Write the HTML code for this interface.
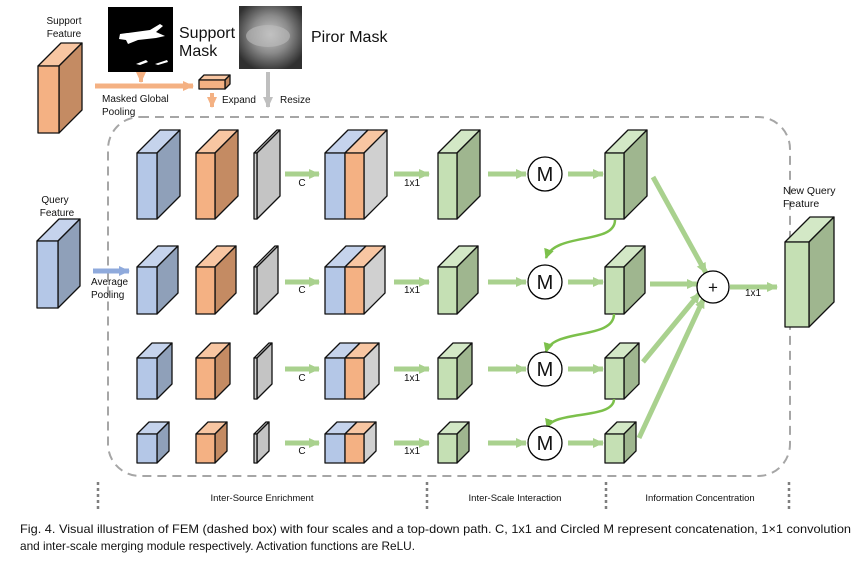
<!DOCTYPE html>
<html><head><meta charset="utf-8"><style>
html,body{margin:0;padding:0;background:#fff;width:867px;height:562px;overflow:hidden}
svg{display:block}
text{font-family:"Liberation Sans",sans-serif;fill:#111}
</style></head><body>
<svg id="s" width="867" height="562" viewBox="0 0 867 562" xmlns="http://www.w3.org/2000/svg">
<defs>
<marker id="ga" markerUnits="userSpaceOnUse" markerWidth="12" markerHeight="12" refX="10" refY="6" orient="auto"><path d="M0,1 L11,6 L0,11 Z" fill="#a9d18e"/></marker>
<marker id="gd" markerUnits="userSpaceOnUse" markerWidth="12" markerHeight="12" refX="9" refY="6" orient="auto"><path d="M0,1 L10,6 L0,11 Z" fill="#7cc04b"/></marker>
<marker id="oa" markerUnits="userSpaceOnUse" markerWidth="12" markerHeight="12" refX="10" refY="6" orient="auto"><path d="M0,1 L11,6 L0,11 Z" fill="#f4b183"/></marker>
<marker id="ba" markerUnits="userSpaceOnUse" markerWidth="12" markerHeight="12" refX="10" refY="6" orient="auto"><path d="M0,1 L11,6 L0,11 Z" fill="#8faadc"/></marker>
<marker id="ya" markerUnits="userSpaceOnUse" markerWidth="12" markerHeight="12" refX="10" refY="6" orient="auto"><path d="M0,1 L11,6 L0,11 Z" fill="#bfbfbf"/></marker>
<radialGradient id="pm" cx="50%" cy="45%" r="60%"><stop offset="0" stop-color="#c8c8c8"/><stop offset="0.5" stop-color="#8a8a8a"/><stop offset="1" stop-color="#303030"/></radialGradient>
</defs>
<rect x="108" y="117" width="682" height="359" rx="32" fill="none" stroke="#a6a6a6" stroke-width="2" stroke-dasharray="9,6"/>
<rect x="108" y="7" width="65" height="65" fill="#000"/>
<path d="M120,34 L150,30 L160,24 L163,26 L156,32 L165,36 L156,38 L138,40 L128,44 L126,40 L119,39 Z" fill="#fff"/>
<path d="M136,64 L146,60 L148,62 L140,65 Z M155,64 L167,60 L168,62 L158,65 Z" fill="#fff"/>
<rect x="239" y="6" width="63" height="63" fill="url(#pm)"/>
<ellipse cx="268" cy="36" rx="22" ry="11" fill="#bdbdbd" opacity="0.6"/>
<text x="179" y="38" font-size="16">Support</text>
<text x="179" y="56" font-size="16">Mask</text>
<text x="311" y="42" font-size="16">Piror Mask</text>
<text x="64" y="24" font-size="10" text-anchor="middle">Support</text>
<text x="64" y="37" font-size="10" text-anchor="middle">Feature</text>
<text x="55" y="203" font-size="10" text-anchor="middle">Query</text>
<text x="57" y="216" font-size="10" text-anchor="middle">Feature</text>
<line x1="141" y1="72" x2="141" y2="82" stroke="#f4b183" stroke-width="4" marker-end="url(#oa)"/>
<line x1="95" y1="86" x2="193" y2="86" stroke="#f4b183" stroke-width="5" marker-end="url(#oa)"/>
<line x1="212" y1="93" x2="212" y2="107" stroke="#f4b183" stroke-width="4" marker-end="url(#oa)"/>
<line x1="268" y1="72" x2="268" y2="107" stroke="#bfbfbf" stroke-width="4" marker-end="url(#ya)"/>
<text x="102" y="102" font-size="10">Masked Global</text>
<text x="102" y="115" font-size="10">Pooling</text>
<text x="222" y="103" font-size="10">Expand</text>
<text x="280" y="103" font-size="10">Resize</text>
<line x1="93" y1="271" x2="129" y2="271" stroke="#8faadc" stroke-width="5" marker-end="url(#ba)"/>
<text x="91" y="285" font-size="10">Average</text>
<text x="91" y="298" font-size="10">Pooling</text>
<g id="cubes"></g>
<g id="arrows" fill="none"></g>
<g stroke="#000" stroke-width="1.3" fill="#fff">
<circle cx="545" cy="174" r="17"/><circle cx="545" cy="282" r="17"/><circle cx="545" cy="369" r="17"/><circle cx="545" cy="443" r="17"/>
<circle cx="713" cy="287" r="16"/>
</g>
<g font-size="20" text-anchor="middle">
<text x="545" y="181">M</text><text x="545" y="289">M</text><text x="545" y="376">M</text><text x="545" y="450">M</text>
</g>
<text x="713" y="293" font-size="17" text-anchor="middle">+</text>
<g font-size="10" text-anchor="middle">
<text x="302" y="186">C</text><text x="302" y="293">C</text><text x="302" y="381">C</text><text x="302" y="454">C</text>
<text x="412" y="186">1x1</text><text x="412" y="293">1x1</text><text x="412" y="381">1x1</text><text x="412" y="454">1x1</text>
<text x="753" y="296">1x1</text>
</g>
<text x="783" y="194" font-size="10.5">New Query</text>
<text x="783" y="207" font-size="10.5">Feature</text>
<g stroke="#7f7f7f" stroke-width="2.5" stroke-dasharray="3,3">
<line x1="98" y1="482" x2="98" y2="512"/><line x1="427" y1="482" x2="427" y2="512"/><line x1="606" y1="482" x2="606" y2="512"/><line x1="789" y1="482" x2="789" y2="512"/>
</g>
<g font-size="9.5" text-anchor="middle">
<text x="262" y="501">Inter-Source Enrichment</text>
<text x="515" y="501">Inter-Scale Interaction</text>
<text x="700" y="501">Information Concentration</text>
</g>
<text x="20" y="533" font-size="12" textLength="831" lengthAdjust="spacingAndGlyphs">Fig. 4. Visual illustration of FEM (dashed box) with four scales and a top-down path. C, 1x1 and Circled M represent concatenation, 1×1 convolution</text>
<text x="20" y="550" font-size="12" textLength="395" lengthAdjust="spacingAndGlyphs">and inter-scale merging module respectively. Activation functions are ReLU.</text>
</svg>
<script>
var NS="http://www.w3.org/2000/svg";
var C=document.getElementById('cubes'),A=document.getElementById('arrows');
function el(p,t,a){var e=document.createElementNS(NS,t);for(var k in a)e.setAttribute(k,a[k]);p.appendChild(e);return e;}
var P={b:['#b4c7e7','#c5d3ec','#8fa0b9'],o:['#f4b183','#f8c6a2','#c48b63'],g:['#d0d0d0','#d8d8d8','#c4c4c4'],n:['#c5e0b4','#d3e8c6','#9fb68f']};
var st={stroke:'#111','stroke-width':1.3,'stroke-linejoin':'round'};
function pts(a){return a.map(function(p){return p[0]+','+p[1]}).join(' ');}
function poly(a,f){var o={points:pts(a),fill:f};for(var k in st)o[k]=st[k];el(C,'polygon',o);}
function cube(x,y,w,h,d,c){var p=P[c];
poly([[x,y],[x+d,y-d],[x+w+d,y-d],[x+w,y]],p[1]);
poly([[x+w,y],[x+w+d,y-d],[x+w+d,y+h-d],[x+w,y+h]],p[2]);
poly([[x,y],[x+w,y],[x+w,y+h],[x,y+h]],p[0]);}
function cat(x,y,w1,w2,h,d){
poly([[x,y],[x+d,y-d],[x+w1+d,y-d],[x+w1,y]],P.b[1]);
poly([[x+w1,y],[x+w1+d,y-d],[x+w1+w2+d,y-d],[x+w1+w2,y]],P.o[1]);
var x2=x+w1+w2;poly([[x2,y],[x2+d,y-d],[x2+d,y+h-d],[x2,y+h]],P.g[0]);
poly([[x,y],[x+w1,y],[x+w1,y+h],[x,y+h]],P.b[0]);
poly([[x+w1,y],[x2,y],[x2,y+h],[x+w1,y+h]],P.o[0]);}
cube(38,66,21,67,23,'o');
cube(37,241,21,67,22,'b');
cube(199,80,26,9,5,'o');
var R=[[153,66,23],[267,47,21],[358,41,15],[434,29,12]];
R.forEach(function(r,i){var y=r[0],h=r[1],d=r[2];
cube(137,y,20,h,d,'b');cube(196,y,19,h,d,'o');cube(254,y,3,h,d,'g');
cat(325,y,20,19,h,d);
cube(438,y,19,h,d,'n');cube(605,y,19,h,d,'n');});
cube(785,242,24,85,25,'n');
function ar(x1,y1,x2,y2){el(A,'line',{x1:x1,y1:y1,x2:x2,y2:y2,stroke:'#a9d18e','stroke-width':5,'marker-end':'url(#ga)'});}
[174,282,369,443].forEach(function(y){ar(285,y,319,y);ar(394,y,429,y);ar(488,y,526,y);ar(568,y,603,y);});
ar(653,177,706,273);ar(650,284,697,284);ar(643,362,700,293);ar(639,438,704,298);ar(730,287,777,287);
function cv(d){el(A,'path',{d:d,stroke:'#7cc04b','stroke-width':2.5,'marker-end':'url(#gd)'});}
cv('M615,220 C615,245 555,232 546,258');
cv('M614,314 C614,340 553,328 546,352');
cv('M614,399 C614,420 553,410 547,428');
</script>
</body></html>
